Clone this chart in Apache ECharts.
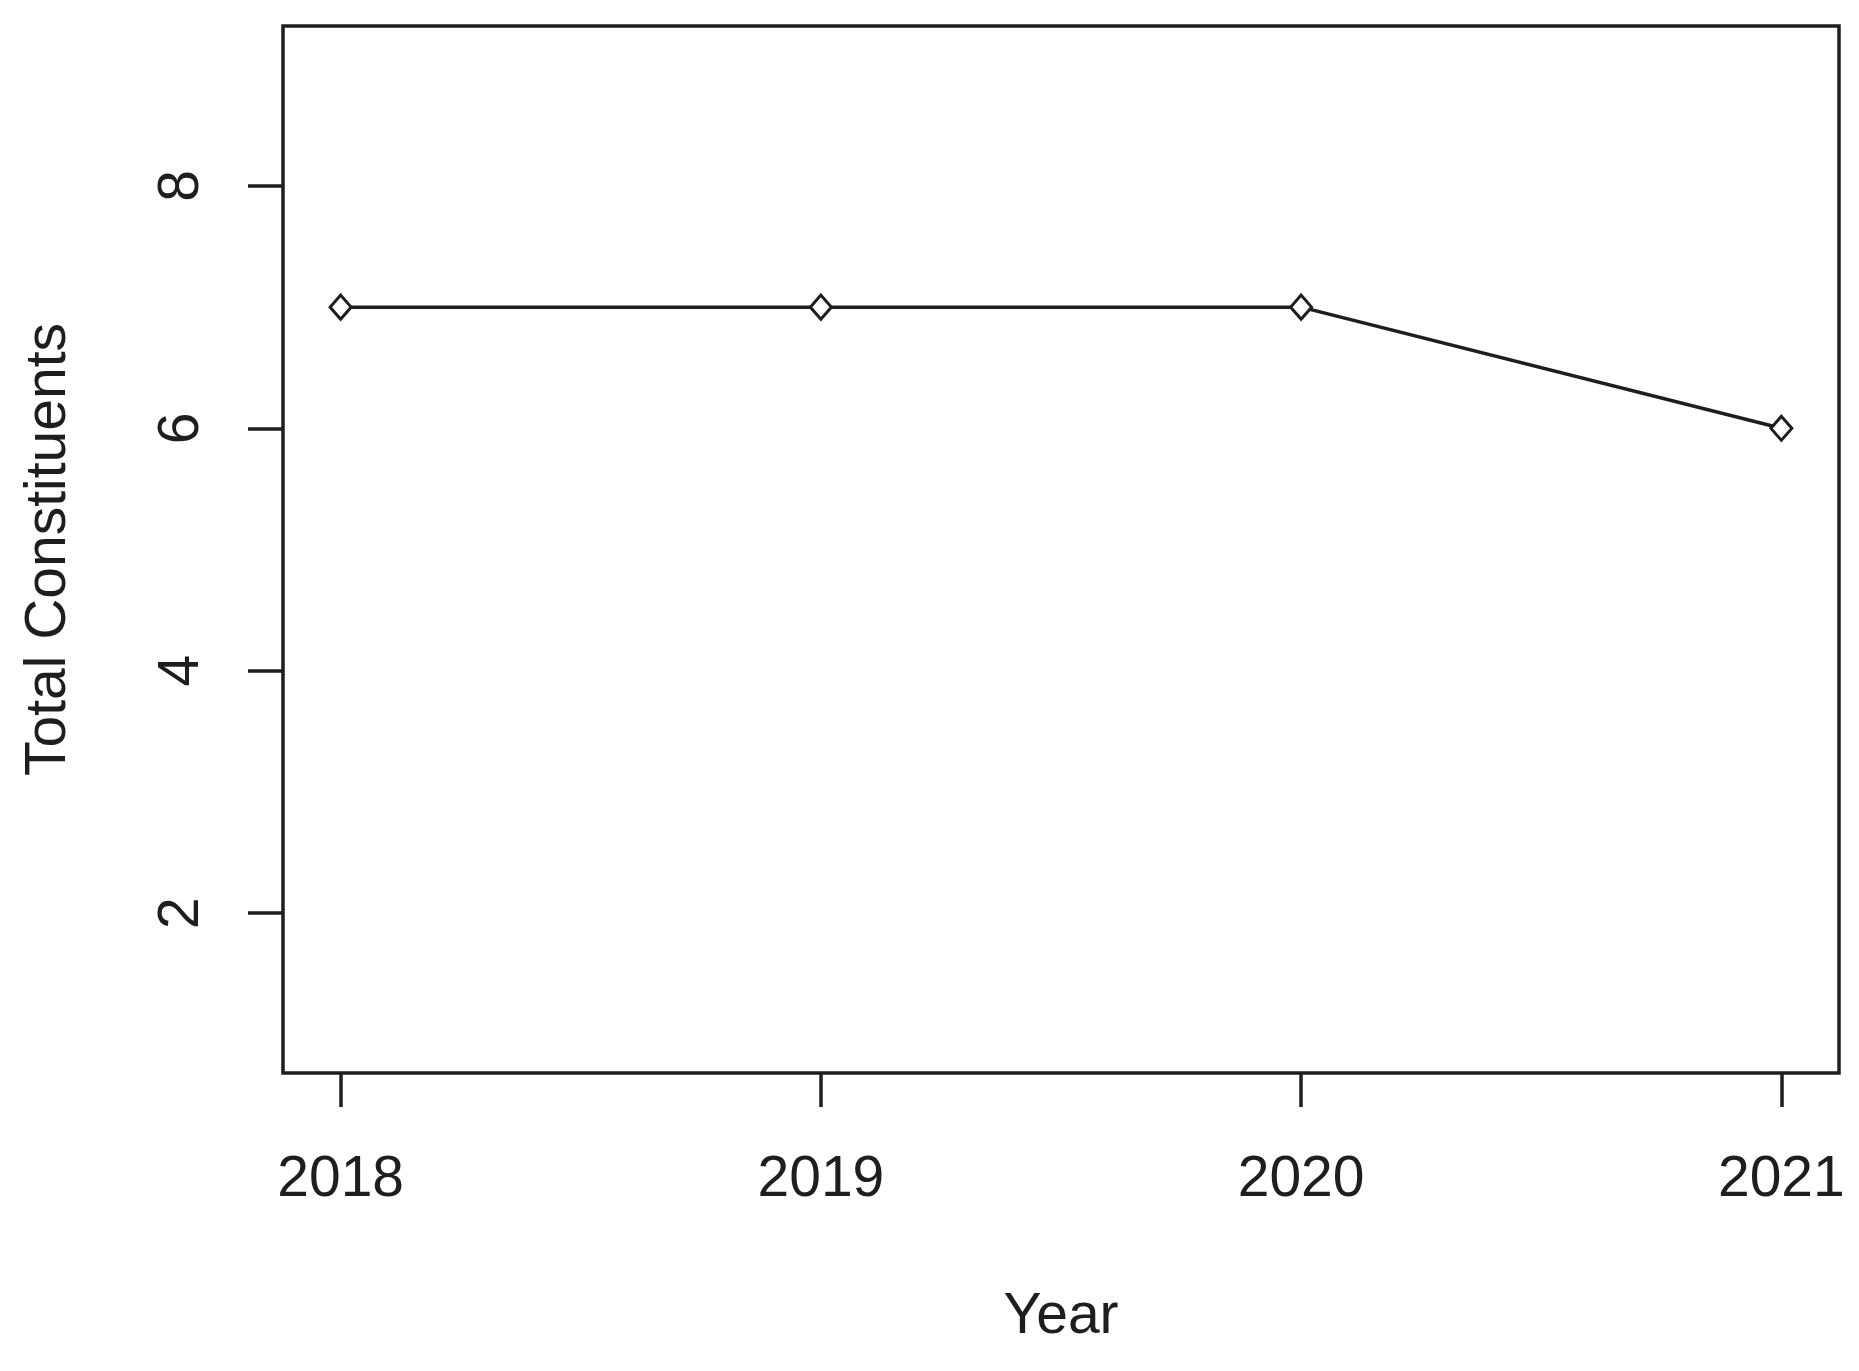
<!DOCTYPE html>
<html>
<head>
<meta charset="utf-8">
<script src="https://cdn.jsdelivr.net/npm/echarts@6/dist/echarts.min.js"></script>
<style>
html,body{margin:0;padding:0;background:#fff;}
#chart{width:1859px;height:1371px;}
</style>
</head>
<body>
<div id="chart"></div>
<script>
const years = [2018, 2019, 2020, 2021];
const totalConstituents = [7, 7, 7, 6];
const yTicks = [2, 4, 6, 8];
const xTicks = [2018, 2019, 2020, 2021];

const font = '"Liberation Sans", Arial, sans-serif';
const ink = '#1e1e1e';
const chart = echarts.init(document.getElementById('chart'));
chart.setOption({
  backgroundColor: '#ffffff',
  animation: false,
  grid: {
    left: 283, right: 20, top: 26, bottom: 298,
    show: true, borderColor: ink, borderWidth: 3.5, backgroundColor: 'transparent'
  },
  xAxis: {
    type: 'value',
    min: 2017.88, max: 2021.12,
    name: 'Year', nameLocation: 'middle', nameGap: 216,
    nameTextStyle: { fontFamily: font, fontSize: 57, color: ink },
    axisLine: { show: false },
    splitLine: { show: false },
    axisTick: { show: true, customValues: xTicks, length: 34, lineStyle: { color: ink, width: 3.5 } },
    axisLabel: { customValues: xTicks, margin: 79, fontFamily: font, fontSize: 57, color: ink,
      formatter: v => String(v) }
  },
  yAxis: {
    type: 'value',
    min: 0.68, max: 9.32,
    name: 'Total Constituents', nameLocation: 'middle', nameGap: 205, nameRotate: 90,
    nameTextStyle: { fontFamily: font, fontSize: 57, color: ink },
    axisLine: { show: false },
    splitLine: { show: false },
    axisTick: { show: true, customValues: yTicks, length: 35, lineStyle: { color: ink, width: 3.5 } },
    axisLabel: { customValues: yTicks, rotate: 90, margin: 72, fontFamily: font, fontSize: 57, color: ink }
  },
  series: [{
    type: 'line',
    data: years.map((y, i) => [y, totalConstituents[i]]),
    symbol: 'diamond', symbolSize: [21, 24],
    showAllSymbol: true,
    lineStyle: { color: ink, width: 3.5 },
    itemStyle: { color: '#ffffff', borderColor: ink, borderWidth: 3 },
    z: 3
  }]
});
</script>
</body>
</html>
